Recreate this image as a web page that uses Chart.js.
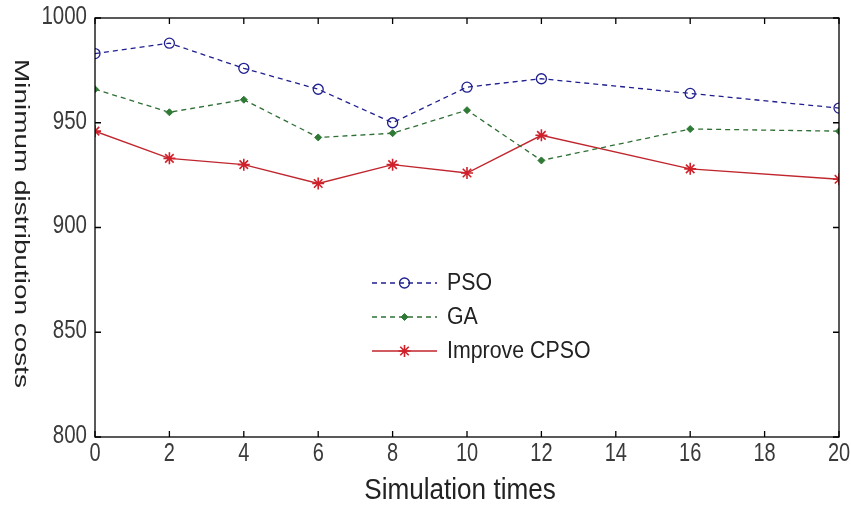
<!DOCTYPE html>
<html>
<head>
<meta charset="utf-8">
<script src="https://cdn.jsdelivr.net/npm/chart.js@4/dist/chart.umd.min.js"></script>
<style>
  html, body { margin: 0; padding: 0; background: #fff; }
  #wrap { width: 851px; height: 506px; }
</style>
</head>
<body>
<div id="wrap"><canvas id="costChart" width="851" height="506"></canvas></div>
<script>
const simTimes = [0, 2, 4, 6, 8, 10, 12, 16, 20];
const psoCosts = [983, 988, 976, 966, 950, 967, 971, 964, 957];
const gaCosts = [966, 955, 961, 943, 945, 956, 932, 947, 946];
const cpsoCosts = [946, 933, 930, 921, 930, 926, 944, 928, 923];
const xTicks = [0, 2, 4, 6, 8, 10, 12, 14, 16, 18, 20];
const yTicks = [800, 850, 900, 950, 1000];
const xTitle = 'Simulation times';
const yTitle = 'Minimum distribution costs';

const baseFont = "'Liberation Sans', Arial";

function toPoints(values) {
    return simTimes.map((t, i) => ({ x: t, y: values[i] }));
}

// squeezed text, the original uses a narrow face
function narrowText(ctx, text, x, y, size, sx, sy, align) {
    ctx.save();
    ctx.translate(x, y);
    ctx.scale(sx, sy);
    ctx.font = size + 'px ' + baseFont;
    ctx.textAlign = align;
    ctx.textBaseline = 'middle';
    ctx.fillText(text, 0, 0);
    ctx.restore();
}

// box around the plot with small inward ticks, tick labels and axis titles
const frameBox = {
    id: 'frameBox',
    afterDraw(chart) {
        const { ctx, chartArea: a, scales } = chart;
        ctx.save();
        ctx.strokeStyle = '#000';
        ctx.lineWidth = 1.3;
        ctx.strokeRect(a.left, a.top, a.right - a.left, a.bottom - a.top);
        ctx.beginPath();
        scales.x.ticks.forEach(t => {
            const px = scales.x.getPixelForValue(t.value);
            ctx.moveTo(px, a.bottom); ctx.lineTo(px, a.bottom - 6);
            ctx.moveTo(px, a.top); ctx.lineTo(px, a.top + 6);
        });
        scales.y.ticks.forEach(t => {
            const py = scales.y.getPixelForValue(t.value);
            ctx.moveTo(a.left, py); ctx.lineTo(a.left + 6, py);
            ctx.moveTo(a.right, py); ctx.lineTo(a.right - 6, py);
        });
        ctx.stroke();

        ctx.fillStyle = '#3a3a3a';
        scales.x.ticks.forEach(t => {
            narrowText(ctx, String(t.value), scales.x.getPixelForValue(t.value), a.bottom + 17, 25, 0.8, 1, 'center');
        });
        scales.y.ticks.forEach(t => {
            narrowText(ctx, String(t.value), a.left - 8, scales.y.getPixelForValue(t.value) - 1, 25, 0.82, 1, 'right');
        });

        ctx.fillStyle = '#222';
        narrowText(ctx, xTitle, (a.left + a.right) / 2 - 7, 491, 29, 0.9, 1, 'center');

        // y title reads top to bottom in the original
        ctx.translate(21, (a.top + a.bottom) / 2 - 4);
        ctx.rotate(Math.PI / 2);
        narrowText(ctx, yTitle, 0, 0, 21, 1.33, 1, 'center');
        ctx.restore();
    }
};

// legend drawn inside the plot, no box
const innerLegend = {
    id: 'innerLegend',
    afterDraw(chart) {
        const { ctx } = chart;
        const x0 = 372, x1 = 437, textX = 447;
        let y = 283;
        ctx.save();
        chart.data.datasets.forEach(ds => {
            ctx.strokeStyle = ds.borderColor;
            ctx.lineWidth = ds.borderWidth;
            ctx.setLineDash(ds.borderDash || []);
            ctx.beginPath();
            ctx.moveTo(x0, y); ctx.lineTo(x1, y);
            ctx.stroke();
            ctx.setLineDash([]);
            ctx.strokeStyle = ds.pointBorderColor;
            ctx.fillStyle = ds.pointBackgroundColor;
            ctx.lineWidth = ds.pointBorderWidth;
            Chart.helpers.drawPoint(ctx, {
                pointStyle: ds.pointStyle,
                radius: ds.pointRadius,
                borderWidth: ds.pointBorderWidth
            }, (x0 + x1) / 2, y);
            ctx.fillStyle = '#222';
            narrowText(ctx, ds.label, textX, y + 1, 22, 0.97, 1.05, 'left');
            y += 34;
        });
        ctx.restore();
    }
};

const ctx = document.getElementById('costChart').getContext('2d');
new Chart(ctx, {
    type: 'line',
    data: {
        datasets: [
            { label: 'PSO', data: toPoints(psoCosts), borderColor: '#1f1f8f', backgroundColor: 'rgba(0,0,0,0)',
              borderWidth: 1.3, borderDash: [5, 4], pointStyle: 'circle', pointRadius: 5, pointBorderWidth: 1.3,
              pointBackgroundColor: 'rgba(0,0,0,0)', pointBorderColor: '#1f1f8f', tension: 0 },
            { label: 'GA', data: toPoints(gaCosts), borderColor: '#2f6f35', backgroundColor: '#2f7a35',
              borderWidth: 1.3, borderDash: [5, 4], pointStyle: 'rectRot', pointRadius: 3.5, pointBorderWidth: 1,
              pointBackgroundColor: '#2f7a35', pointBorderColor: '#2f7a35', tension: 0 },
            { label: 'Improve CPSO', data: toPoints(cpsoCosts), borderColor: '#c0262e', backgroundColor: '#c0262e',
              borderWidth: 1.4, pointStyle: 'star', pointRadius: 6, pointBorderWidth: 1.6,
              pointBackgroundColor: '#d0202a', pointBorderColor: '#d0202a', tension: 0 }
        ]
    },
    options: {
        responsive: false,
        animation: false,
        layout: { padding: { left: 8, right: 12, top: 18, bottom: 2 } },
        plugins: { legend: { display: false }, tooltip: { enabled: false } },
        scales: {
            x: {
                type: 'linear', min: 0, max: 20,
                afterBuildTicks: s => { s.ticks = xTicks.map(v => ({ value: v })); },
                grid: { display: false },
                border: { display: false },
                ticks: { display: false },
                afterFit: s => { s.height = 67; }
            },
            y: {
                min: 800, max: 1000,
                afterBuildTicks: s => { s.ticks = yTicks.map(v => ({ value: v })); },
                grid: { display: false },
                border: { display: false },
                ticks: { display: false },
                afterFit: s => { s.width = 87; }
            }
        }
    },
    plugins: [frameBox, innerLegend]
});
</script>
</body>
</html>
